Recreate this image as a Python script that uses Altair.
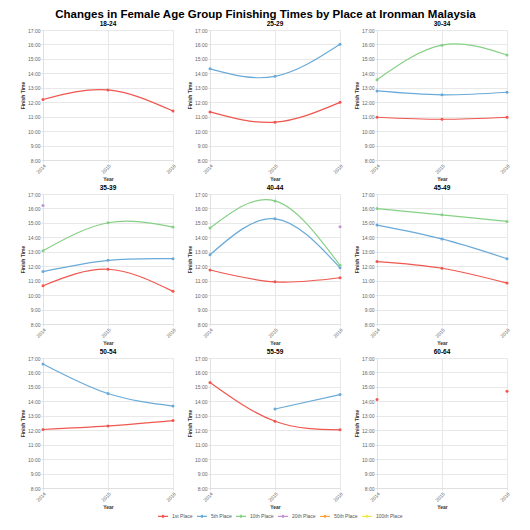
import altair as alt
import pandas as pd

# Data (finish times in decimal hours, None = no finisher at that place)
years = [2014, 2015, 2016]
places = ["1st Place", "5th Place", "10th Place", "20th Place", "50th Place", "100th Place"]
colors = ["#F0574F", "#6AAAD8", "#86D086", "#C590D2", "#FFA645", "#F2E94E"]
age_groups = ["18-24", "25-29", "30-34", "35-39", "40-44", "45-49", "50-54", "55-59", "60-64"]

times_18_24 = {"1st Place": [12.19, 12.85, 11.39]}
times_25_29 = {"1st Place": [11.33, 10.62, 11.99],
               "5th Place": [14.31, 13.79, 16.02]}
times_30_34 = {"1st Place": [10.96, 10.82, 10.96],
               "5th Place": [12.78, 12.51, 12.69],
               "10th Place": [13.56, 15.95, 15.27]}
times_35_39 = {"1st Place": [10.65, 11.79, 10.26],
               "5th Place": [11.63, 12.41, 12.52],
               "10th Place": [13.07, 15.01, 14.71],
               "20th Place": [16.20, None, None]}
times_40_44 = {"1st Place": [11.74, 10.92, 11.20],
               "5th Place": [12.79, 15.28, 11.90],
               "10th Place": [14.64, 16.52, 12.06],
               "20th Place": [None, None, 14.74]}
times_45_49 = {"1st Place": [12.32, 11.86, 10.83],
               "5th Place": [14.85, 13.89, 12.52],
               "10th Place": [15.99, 15.56, 15.10]}
times_50_54 = {"1st Place": [12.05, 12.30, 12.67],
               "5th Place": [16.59, 14.54, 13.67]}
times_55_59 = {"1st Place": [15.31, 12.62, 12.03],
               "5th Place": [None, 13.47, 14.47]}
times_60_64 = {"1st Place": [14.13, None, 14.70]}

all_times = [times_18_24, times_25_29, times_30_34, times_35_39, times_40_44,
             times_45_49, times_50_54, times_55_59, times_60_64]

rows = []
for group, series in zip(age_groups, all_times):
    for place, vals in series.items():
        for yr, v in zip(years, vals):
            rows.append({"Age Group": group, "Place": place, "Year": yr, "Time": v})
df = pd.DataFrame(rows)

font = "Liberation Sans"

x_enc = alt.X("Year:O", title="Year",
              scale=alt.Scale(type="point", padding=0),
              axis=alt.Axis(labelAngle=-45, grid=True, labelOverlap=False))
y_enc = alt.Y("Time:Q", title="Finish Time",
              scale=alt.Scale(domain=[8, 17], nice=False),
              axis=alt.Axis(values=list(range(8, 18)), labelOverlap=False,
                            labelExpr="datum.value + ':00'"))
color_enc = alt.Color("Place:N",
                      scale=alt.Scale(domain=places, range=colors),
                      legend=alt.Legend(title=None, orient="none", direction="horizontal",
                                        legendX=114, legendY=480,
                                        symbolType="M-1,0H1M0,-0.22L0.22,0L0,0.22L-0.22,0Z",
                                        symbolSize=100,
                                        symbolStrokeWidth=1.1, labelFontSize=5,
                                        labelColor="#555", columnPadding=1,
                                        labelOffset=3, padding=0))

base = alt.Chart(df)

lines = base.mark_line(interpolate="natural", strokeWidth=1.2,
                       invalid="break-paths-filter-domains").encode(
    x=x_enc, y=y_enc, color=color_enc)

points = base.mark_point(filled=True, size=9, opacity=1).encode(
    x=x_enc, y=y_enc, color=color_enc
).transform_filter("isValid(datum.Time)")

chart = alt.layer(lines, points).properties(
    width=130, height=130
).facet(
    facet=alt.Facet("Age Group:N", sort=age_groups,
                    header=alt.Header(title=None, labelFontSize=6.5, labelFontWeight="bold",
                                      labelFont=font, labelPadding=1)),
    columns=3,
    spacing={"row": 2, "column": 8}
).resolve_axis(
    x="independent", y="independent"
).properties(
    title=alt.Title("Changes in Female Age Group Finishing Times by Place at Ironman Malaysia",
                    fontSize=11.5, font=font, fontWeight="bold", anchor="middle", offset=0),
    padding={"left": 11, "right": 0, "top": 0, "bottom": 0}
).configure_axis(
    labelFontSize=5, labelColor="#666", labelFont=font, labelPadding=1,
    titleFontSize=5, titleFont=font, titleFontWeight="bold", titleColor="#333",
    gridColor="#e8e8e8", domainColor="#e0e0e0", tickColor="#e0e0e0",
    tickSize=2, titlePadding=2
).configure_view(
    stroke="#e8e8e8"
).configure_legend(
    labelFont=font
)

chart.save("out.html", embed_options={"renderer": "svg", "actions": False})
